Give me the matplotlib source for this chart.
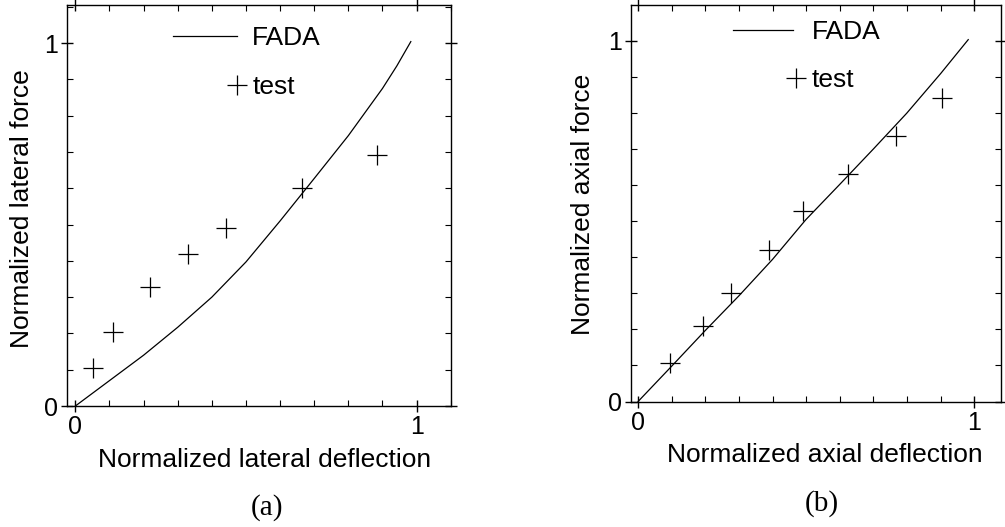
import matplotlib
matplotlib.use("Agg")
import matplotlib.pyplot as plt
from matplotlib.ticker import MultipleLocator, FixedLocator
from matplotlib.lines import Line2D

plt.rcParams["font.family"] = ["Liberation Sans", "DejaVu Sans"]

# panel (a): lateral
lat_fada_x = [0.0, 0.10, 0.20, 0.30, 0.40, 0.50, 0.60, 0.70, 0.80, 0.90, 0.942, 0.983]
lat_fada_y = [0.0, 0.070, 0.140, 0.217, 0.300, 0.397, 0.510, 0.627, 0.745, 0.875, 0.937, 1.004]
lat_test_x = [0.053, 0.109, 0.219, 0.331, 0.441, 0.665, 0.883]
lat_test_y = [0.105, 0.203, 0.327, 0.420, 0.490, 0.601, 0.691]

# panel (b): axial
ax_fada_x = [0.0, 0.100, 0.199, 0.300, 0.400, 0.499, 0.599, 0.700, 0.799, 0.900, 0.982]
ax_fada_y = [0.0, 0.098, 0.196, 0.293, 0.394, 0.504, 0.601, 0.700, 0.799, 0.909, 1.003]
ax_test_x = [0.095, 0.192, 0.276, 0.389, 0.492, 0.625, 0.767, 0.903]
ax_test_y = [0.106, 0.210, 0.300, 0.421, 0.527, 0.631, 0.736, 0.840]

FS = 19


def style_axes(ax, xlim, ylim):
    ax.set_xlim(*xlim)
    ax.set_ylim(*ylim)
    ax.xaxis.set_major_locator(FixedLocator([0, 1]))
    ax.yaxis.set_major_locator(FixedLocator([0, 1]))
    ax.xaxis.set_minor_locator(MultipleLocator(0.1))
    ax.yaxis.set_minor_locator(MultipleLocator(0.1))
    ax.tick_params(which="major", direction="inout", length=9, width=1,
                   top=True, right=True, labelsize=18, pad=2)
    ax.tick_params(which="minor", direction="in", length=4, width=0.8,
                   top=True, right=True)
    for s in ax.spines.values():
        s.set_linewidth(1.0)


def add_legend(ax, fada_pos, test_pos, hlen, hpad):
    h1 = Line2D([], [], color="k", lw=0.9)
    h2 = Line2D([], [], color="k", ls="none", marker="+", ms=15, mew=0.9)
    leg1 = ax.legend([h1], ["FADA"], loc="center left", bbox_to_anchor=fada_pos,
                     frameon=False, fontsize=FS, handlelength=hlen,
                     handletextpad=hpad, borderaxespad=0, borderpad=0)
    ax.add_artist(leg1)
    ax.legend([h2], ["test"], loc="center left", bbox_to_anchor=test_pos,
              frameon=False, fontsize=FS, handlelength=0.8,
              handletextpad=0.2, borderaxespad=0, borderpad=0)


def set_labels(ax, xlabel, ylabel, xpos, ypos):
    ax.set_xlabel(xlabel, fontsize=FS)
    ax.set_ylabel(ylabel, fontsize=FS)
    ax.xaxis.set_label_coords(*xpos)
    ax.yaxis.set_label_coords(*ypos)
    ax.xaxis.label.set_verticalalignment("center")
    ax.yaxis.label.set_verticalalignment("center")


fig = plt.figure(figsize=(10.05, 5.27), dpi=100)

ax1 = fig.add_axes([0.0665, 0.2296, 0.382, 0.761])
ax1.plot(lat_fada_x, lat_fada_y, color="k", lw=0.9)
ax1.plot(lat_test_x, lat_test_y, ls="none", marker="+", ms=15, mew=0.9, color="k")
style_axes(ax1, (-0.025, 1.1), (0, 1.105))
set_labels(ax1, "Normalized lateral deflection", "Normalized lateral force",
           (0.515, -0.135), (-0.117, 0.4925))
add_legend(ax1, (0.277, 0.918), (0.416, 0.7955), 2.4, 0.57)
fig.text(0.2657, 0.036, "(a)", family="Liberation Serif", fontsize=21, ha="center", va="center")

ax2 = fig.add_axes([0.6282, 0.2381, 0.368, 0.7524])
ax2.plot(ax_fada_x, ax_fada_y, color="k", lw=0.9)
ax2.plot(ax_test_x, ax_test_y, ls="none", marker="+", ms=15, mew=0.9, color="k")
style_axes(ax2, (-0.02, 1.08), (0, 1.099))
set_labels(ax2, "Normalized axial deflection", "Normalized axial force",
           (0.524, -0.135), (-0.1306, 0.498))
add_legend(ax2, (0.276, 0.932), (0.416, 0.811), 2.27, 0.7)
fig.text(0.8176, 0.045, "(b)", family="Liberation Serif", fontsize=21, ha="center", va="center")

fig.savefig("out.png", dpi=100)
